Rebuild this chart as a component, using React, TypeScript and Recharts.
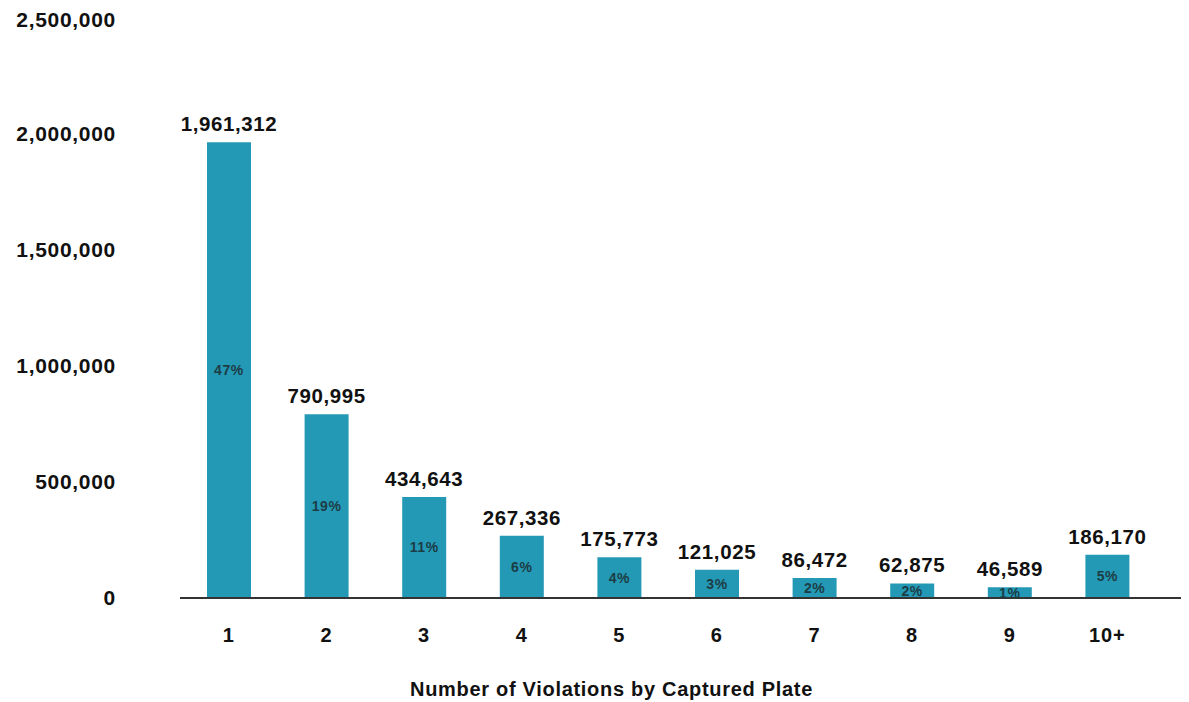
import React from "react";
import { BarChart, Bar, XAxis, YAxis, LabelList } from "recharts";

const categories = ["1", "2", "3", "4", "5", "6", "7", "8", "9", "10+"];
const counts = [1961312, 790995, 434643, 267336, 175773, 121025, 86472, 62875, 46589, 186170];
const shares = ["47%", "19%", "11%", "6%", "4%", "3%", "2%", "2%", "1%", "5%"];
const yTicks = [0, 500000, 1000000, 1500000, 2000000, 2500000];

const data = categories.map((c, i) => ({ name: c, value: counts[i], share: shares[i] }));

const FONT = "'Liberation Sans', Arial, Helvetica, sans-serif";
const fmt = (v: number) => v.toLocaleString("en-US");

const AxisTitle = ({ viewBox }: any) => (
  <text
    x={viewBox.x + viewBox.width / 2 - 73}
    y={viewBox.y + 98}
    textAnchor="middle"
    fontFamily={FONT}
    fontWeight={700}
    fontSize={20}
    letterSpacing={0.7}
    fill="#111"
  >
    Number of Violations by Captured Plate
  </text>
);

export default function App() {
  return (
    <div style={{ width: 1181, height: 694 }}>
      <BarChart
        width={1181}
        height={694}
        data={data}
        margin={{ top: 9, right: 0, bottom: 0, left: 0 }}
        barCategoryGap={0}
      >
        <XAxis
          dataKey="name"
          height={104}
          padding={{ left: 0, right: 33 }}
          tickLine={false}
          tickSize={0}
          tickMargin={30}
          axisLine={{ stroke: "#333", strokeWidth: 2.2 }}
          tick={{ fontFamily: FONT, fontWeight: 700, fontSize: 20, fill: "#111", letterSpacing: 0.8 }}
          interval={0}
          label={<AxisTitle />}
        />
        <YAxis
          width={172}
          domain={[0, 2500000]}
          ticks={yTicks}
          tickFormatter={fmt}
          axisLine={false}
          tickLine={false}
          tickSize={0}
          tickMargin={64}
          tick={{ fontFamily: FONT, fontWeight: 700, fontSize: 21, fill: "#111", letterSpacing: 0.7 }}
        />
        <Bar dataKey="value" fill="#2499b5" barSize={44} isAnimationActive={false}>
          <LabelList
            dataKey="value"
            position="top"
            offset={11}
            formatter={(v: any) => fmt(Number(v))}
            style={{ fontFamily: FONT, fontWeight: 700, fontSize: 20.5, fill: "#111", letterSpacing: 0.6 }}
          />
          <LabelList
            dataKey="share"
            position="center"
            style={{ fontFamily: FONT, fontWeight: 700, fontSize: 14, fill: "#1c3d46", letterSpacing: 0.6 }}
          />
        </Bar>
      </BarChart>
    </div>
  );
}
